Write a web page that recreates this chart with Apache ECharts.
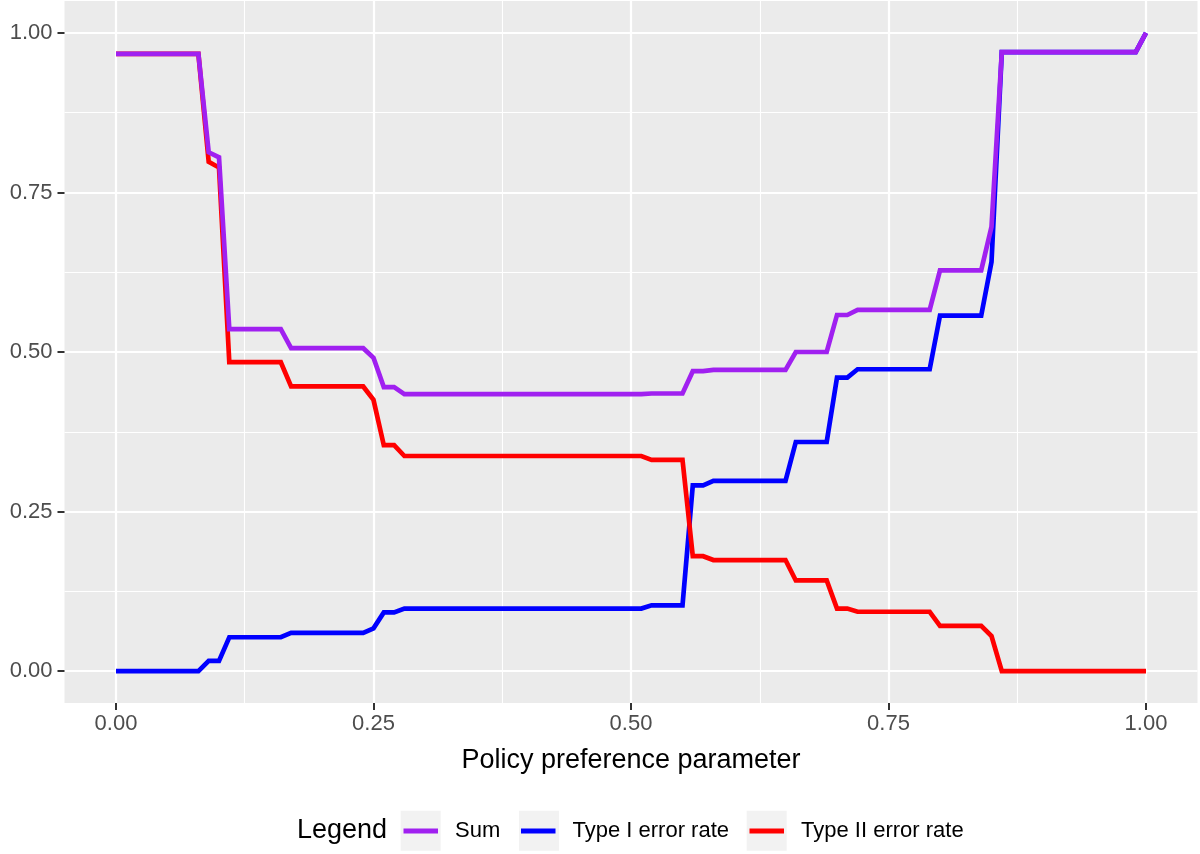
<!DOCTYPE html>
<html><head><meta charset="utf-8">
<script src="https://cdn.jsdelivr.net/npm/echarts@6/dist/echarts.min.js"></script>
<style>html,body{margin:0;padding:0;background:#fff}#c{width:1200px;height:854px}</style>
</head><body><div id="c"></div>
<script>
// Policy preference parameter (vertices of the piecewise-linear curves)
const xValues      = [0, 0.08, 0.09, 0.10, 0.11, 0.16, 0.17, 0.24, 0.25, 0.26, 0.27, 0.28, 0.51, 0.52, 0.55, 0.56, 0.57, 0.58, 0.65, 0.66, 0.69, 0.70, 0.71, 0.72, 0.79, 0.80, 0.84, 0.85, 0.86, 0.99, 1.00];
const typeIValues  = [0, 0, 0.016, 0.016, 0.053, 0.053, 0.060, 0.060, 0.067, 0.092, 0.092, 0.098, 0.098, 0.103, 0.103, 0.291, 0.291, 0.298, 0.298, 0.359, 0.359, 0.460, 0.460, 0.473, 0.473, 0.557, 0.557, 0.641, 0.970, 0.970, 1.000];
const typeIIValues = [0.967, 0.967, 0.798, 0.789, 0.484, 0.484, 0.446, 0.446, 0.425, 0.354, 0.354, 0.337, 0.337, 0.331, 0.331, 0.180, 0.180, 0.174, 0.174, 0.142, 0.142, 0.098, 0.098, 0.093, 0.093, 0.071, 0.071, 0.055, 0, 0, 0];
const sumValues    = [0.967, 0.967, 0.813, 0.805, 0.536, 0.536, 0.506, 0.506, 0.491, 0.445, 0.445, 0.434, 0.434, 0.435, 0.435, 0.470, 0.470, 0.472, 0.472, 0.500, 0.500, 0.558, 0.558, 0.566, 0.566, 0.628, 0.628, 0.696, 0.970, 0.970, 1.000];
const majorTicks = [0, 0.25, 0.5, 0.75, 1];
const minorTicks = [0.125, 0.375, 0.625, 0.875];
const seriesNames = ['Sum', 'Type I error rate', 'Type II error rate'];
const seriesColors = ['#A020F0', '#0000FF', '#FF0000'];
const xTitle = 'Policy preference parameter';
const legendTitle = 'Legend';

const F = 'Liberation Sans, Arial, Helvetica, sans-serif';
const chart = echarts.init(document.getElementById('c'), null, {renderer: 'canvas'});

function mkSeries(name, vals, color) {
  return {
    name: name, type: 'line', xAxisIndex: 0, yAxisIndex: 0,
    data: xValues.map((x, i) => [x, vals[i]]),
    symbol: 'none', showSymbol: false, animation: false,
    itemStyle: {color: color},
    lineStyle: {color: color, width: 4.7, cap: 'butt', join: 'miter'}
  };
}

const majorAxisCommon = {
  type: 'value', min: -0.05, max: 1.05,
  axisLine: {show: false, onZero: false},
  axisTick: {show: true, customValues: majorTicks, length: 7, lineStyle: {color: '#333333', width: 2}},
  axisLabel: {customValues: majorTicks, formatter: v => v.toFixed(2), color: '#4D4D4D', fontFamily: F, fontSize: 22},
  splitLine: {show: true, lineStyle: {color: '#FFFFFF', width: 2.2}}
};
const minorAxisCommon = {
  type: 'value', min: -0.05, max: 1.05,
  axisLine: {show: false, onZero: false},
  axisTick: {show: false, customValues: minorTicks},
  axisLabel: {show: false, customValues: minorTicks},
  splitLine: {show: true, lineStyle: {color: '#FFFFFF', width: 1.1}}
};

const iconLefts = [403.5, 521, 749.5];
const boxLefts = [400.7, 519, 746.7];

chart.setOption({
  animation: false,
  backgroundColor: '#FFFFFF',
  grid: {left: 64.5, right: 2.5, top: 1, bottom: 151, show: true, backgroundColor: '#EBEBEB', borderWidth: 0},
  xAxis: [
    Object.assign({}, majorAxisCommon, {
      position: 'bottom',
      axisLabel: Object.assign({}, majorAxisCommon.axisLabel, {margin: 10}),
      name: xTitle, nameLocation: 'middle', nameGap: 44,
      nameTextStyle: {color: '#000000', fontFamily: F, fontSize: 27}
    }),
    Object.assign({}, minorAxisCommon, {position: 'top'})
  ],
  yAxis: [
    Object.assign({}, majorAxisCommon, {
      position: 'left',
      axisLabel: Object.assign({}, majorAxisCommon.axisLabel, {margin: 12})
    }),
    Object.assign({}, minorAxisCommon, {position: 'right'})
  ],
  legend: seriesNames.map((n, i) => ({
    data: [n], left: iconLefts[i], top: 818, padding: 0, orient: 'horizontal',
    icon: 'rect', itemWidth: 34.5, itemHeight: 5, z: 5,
    textStyle: {fontFamily: F, fontSize: 22, color: '#000000', lineHeight: 26, padding: [0, 0, 0, 12]}
  })),
  graphic: boxLefts.map(x => ({
    type: 'rect', left: x, top: 810.7, z: 1, silent: true,
    shape: {width: 40, height: 40}, style: {fill: '#F2F2F2'}
  })).concat([{
    type: 'text', left: 297, top: 817, z: 2, silent: true,
    style: {text: legendTitle, fill: '#000000', font: '27px ' + F}
  }]),
  series: [
    mkSeries(seriesNames[1], typeIValues, seriesColors[1]),
    mkSeries(seriesNames[2], typeIIValues, seriesColors[2]),
    mkSeries(seriesNames[0], sumValues, seriesColors[0])
  ]
});
</script>
</body></html>
